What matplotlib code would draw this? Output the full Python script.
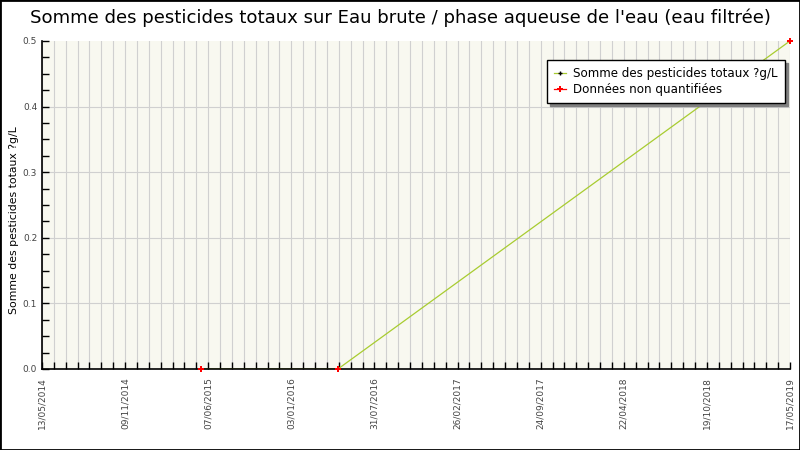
import numpy as np
import pandas as pd
import matplotlib
matplotlib.use('Agg')
import matplotlib.pyplot as plt
import matplotlib.dates as mdates

# ---- data ----
dates = pd.to_datetime(['2015-06-06', '2016-05-06', '2019-05-17'], format='%Y-%m-%d')
values = [0.0, 0.0, 0.5]
nq_dates = dates              # non-quantified points (red)
nq_values = values

x_start = pd.Timestamp('2014-05-13')
x_end = pd.Timestamp('2019-05-17')
tick_labels = ['13/05/2014', '09/11/2014', '07/06/2015', '03/01/2016', '31/07/2016',
               '26/02/2017', '24/09/2017', '22/04/2018', '19/10/2018', '17/05/2019']

title = "Somme des pesticides totaux sur Eau brute / phase aqueuse de l'eau (eau filtrée)"
ylabel = 'Somme des pesticides totaux ?g/L'

plt.rcParams['font.family'] = ['DejaVu Sans']

fig = plt.figure(figsize=(8, 4.5), dpi=100)
ax = fig.add_axes([0.0525, 0.18, 0.935, 0.729])
ax.set_facecolor('#f8f8f0')

x0 = mdates.date2num(x_start)
x1 = mdates.date2num(x_end)
major = np.linspace(x0, x1, len(tick_labels))
minor = np.linspace(x0, x1, 7 * (len(tick_labels) - 1) + 1)

for xm in minor:
    ax.axvline(xm, color='#d0d0d0', lw=0.8, zorder=0)
for yv in np.arange(0.1, 0.5, 0.1):
    ax.axhline(yv, color='#d0d0d0', lw=0.8, zorder=0)

ax.plot(mdates.date2num(dates), values, '-', color='#a8cc30', lw=0.9, zorder=2)
ax.plot(mdates.date2num(nq_dates), nq_values, 'P', color='red', ms=4.5,
        markeredgewidth=0, zorder=3, clip_on=False)

# legend handles
h1, = ax.plot([], [], '-', color='#a8cc30', lw=0.9, marker='+', mec='black', mfc='black', ms=3)
h2, = ax.plot([], [], '-', color='red', lw=0.9, marker='P', mec='red', mfc='red', ms=4.5,
              markeredgewidth=0)

ax.set_xlim(x0, x1)
ax.set_ylim(0, 0.5)
ax.set_xticks(major)
ax.set_xticklabels(tick_labels, rotation=90, fontsize=6.5, color='#444444')
ax.set_xticks(minor, minor=True)
ax.set_yticks(np.arange(0, 0.51, 0.1))
ax.set_yticklabels([f'{v:.1f}' for v in np.arange(0, 0.51, 0.1)], fontsize=6.5, color='#444444')
ax.set_yticks(np.arange(0, 0.51, 0.025), minor=True)
ax.tick_params(axis='both', which='both', direction='in', length=5, width=1, color='black')
ax.tick_params(axis='x', which='major', pad=6)

for s in ['top', 'right']:
    ax.spines[s].set_visible(False)
ax.spines['left'].set_linewidth(1.2)
ax.spines['bottom'].set_linewidth(1.2)

ax.set_ylabel(ylabel, fontsize=7.8)
ax.yaxis.set_label_coords(-0.031, 0.455)
fig.text(0.5, 0.96, title, ha='center', va='center', fontsize=13.1)

leg = ax.legend([h1, h2], ['Somme des pesticides totaux ?g/L', 'Données non quantifiées'],
                loc='upper right', bbox_to_anchor=(0.993, 0.942), fontsize=8.6,
                fancybox=False, shadow={'color': '#808080', 'alpha': 1}, framealpha=1,
                edgecolor='black', handlelength=1.0, handletextpad=0.6,
                borderpad=0.6, labelspacing=0.25, borderaxespad=0)
leg.get_frame().set_linewidth(1)

# figure border
fig.patches.append(plt.Rectangle((0, 0), 1, 1, transform=fig.transFigure,
                                 fill=False, edgecolor='black', lw=2))

fig.savefig('out.png', dpi=100)
